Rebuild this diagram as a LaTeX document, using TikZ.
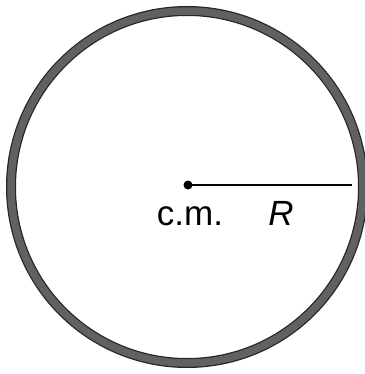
\documentclass[tikz,border=0pt]{standalone}
\usepackage{fontspec}
\setmainfont{Liberation Sans}
\begin{document}
\begin{tikzpicture}[x=1pt,y=-1pt,
  ringfill/.style={draw=black!85,line width=10pt},
  ringcore/.style={draw=black!62,line width=7.5pt},
  lbl/.style={font=\fontsize{35}{40}\selectfont,inner sep=0pt,anchor=base}]
\useasboundingbox (0,0) rectangle (364,374);
\fill[white] (0,0) rectangle (364,374);
\coordinate (c) at (187,187);
\draw[ringfill] (c) circle[radius=176];
\draw[ringcore] (c) circle[radius=176];
\coordinate (e) at (352,185);
\node[circle,fill=black,inner sep=0pt,minimum size=9pt] (cm) at (188,185) {};
\draw[line width=1.2pt] (cm.center) -- (e);
\node[lbl] (t1) at (190,225) {c.m.};
\node[lbl] (t2) at (281,225) {\itshape R};
\end{tikzpicture}
\end{document}
